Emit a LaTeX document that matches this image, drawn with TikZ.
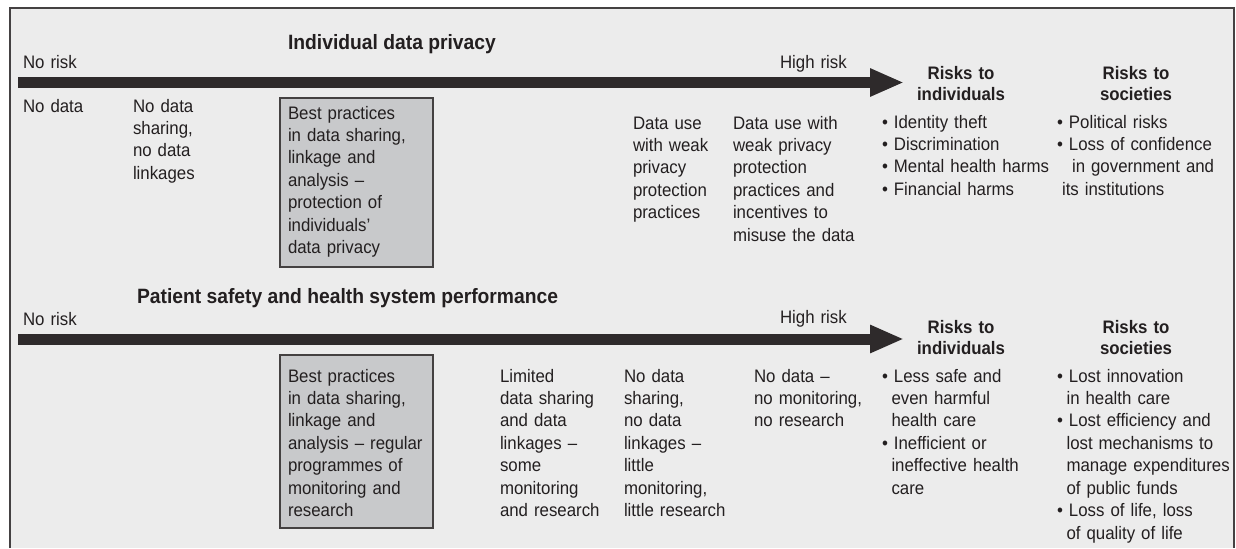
\documentclass[tikz,border=0pt]{standalone}
\usepackage{fontspec}
\setmainfont{Liberation Sans}[FakeStretch=0.93]
\usepackage{xcolor}
\usetikzlibrary{arrows.meta}
\definecolor{ink}{RGB}{35,31,32}
\definecolor{panel}{RGB}{236,236,236}
\definecolor{boxfill}{RGB}{200,201,203}
\newcommand{\riskbullet}{\textbullet\ }
\newcommand{\riskindent}{\hspace*{0.19cm}}

\begin{document}
\begin{tikzpicture}[x=0.02cm,y=-0.02cm]
\tikzstyle{every node}=[inner sep=0pt,outer sep=0pt,text=ink,align=left,font=\fontsize{10.3}{12.8}\selectfont]
\tikzstyle{txt}=[anchor=base west,text width=3.6cm]
\tikzstyle{rowtitle}=[anchor=base west,font=\fontsize{11.8}{13}\selectfont\bfseries]
\tikzstyle{riskhead}=[anchor=base,align=center,text width=3cm,font=\fontsize{10.3}{12.2}\selectfont\bfseries]
\tikzstyle{bestbox}=[draw=ink!85,fill=boxfill,line width=0.6pt,anchor=north west,minimum width=3.06cm]
\tikzstyle{riskarrow}=[line width=0.22cm,draw=ink!95,-{Triangle[length=0.68cm,width=0.52cm]}]
\useasboundingbox (0,0) rectangle (1236,548);
\fill[panel] (10,8) rectangle (1234,548);
\draw[ink!85,line width=0.8pt] (10,548) -- (10,8) -- (1234,8) -- (1234,548);
% individual data privacy
\coordinate (lo1) at (18,82.5);
\coordinate (hi1) at (904,82.5);
\draw[riskarrow] (lo1) -- (hi1);
\node[rowtitle] (priv) at (288,49) {Individual data privacy};
\node[txt] (norisk1) at (23,68) {No risk};
\node[txt] (hirisk1) at (780,68) {High risk};
\node[riskhead] (indiv1) at (961,79) {Risks to\\individuals};
\node[riskhead] (soc1) at (1136,79) {Risks to\\societies};
\node[txt] (nodata1) at (23,112) {No data};
\node[txt] (noshare1) at (133,112) {No data\\sharing,\\no data\\linkages};
\node[bestbox,minimum height=3.38cm] (best1) at (280,98) {};
\node[txt] (besttxt1) at (288,119) {Best practices\\in data sharing,\\linkage and\\analysis --\\protection of\\individuals'\\data privacy};
\node[txt] (weak1) at (633,129) {Data use\\with weak\\privacy\\protection\\practices};
\node[txt] (misuse1) at (733,129) {Data use with\\weak privacy\\protection\\practices and\\incentives to\\misuse the data};
\node[txt] (ilist1) at (882,128) {\riskbullet Identity theft\\\riskbullet Discrimination\\\riskbullet Mental health harms\\\riskbullet Financial harms};
\node[txt] (slist1) at (1057,128) {\riskbullet Political risks\\\riskbullet Loss of confidence\\\hspace*{0.3cm}in government and\\\hspace*{0.1cm}its institutions};
% patient safety
\coordinate (lo2) at (18,339);
\coordinate (hi2) at (904,339);
\draw[riskarrow] (lo2) -- (hi2);
\node[rowtitle] (safety) at (137,303) {Patient safety and health system performance};
\node[txt] (norisk2) at (23,325) {No risk};
\node[txt] (hirisk2) at (780,323) {High risk};
\node[riskhead] (indiv2) at (961,333) {Risks to\\individuals};
\node[riskhead] (soc2) at (1136,333) {Risks to\\societies};
\node[bestbox,minimum height=3.46cm] (best2) at (280,355) {};
\node[txt] (besttxt2) at (288,382) {Best practices\\in data sharing,\\linkage and\\analysis -- regular\\programmes of\\monitoring and\\research};
\node[txt] (limited2) at (500,382) {Limited\\data sharing\\and data\\linkages --\\some\\monitoring\\and research};
\node[txt] (noshare2) at (624,382) {No data\\sharing,\\no data\\linkages --\\little\\monitoring,\\little research};
\node[txt] (nodata2) at (754,382) {No data --\\no monitoring,\\no research};
\node[txt] (ilist2) at (882,382) {\riskbullet Less safe and\\\riskindent even harmful\\\riskindent health care\\\riskbullet Inefficient or\\\riskindent ineffective health\\\riskindent care};
\node[txt] (slist2) at (1057,382) {\riskbullet Lost innovation\\\riskindent in health care\\\riskbullet Lost efficiency and\\\riskindent lost mechanisms to\\\riskindent manage expenditures\\\riskindent of public funds\\\riskbullet Loss of life, loss\\\riskindent of quality of life};
\end{tikzpicture}
\end{document}
